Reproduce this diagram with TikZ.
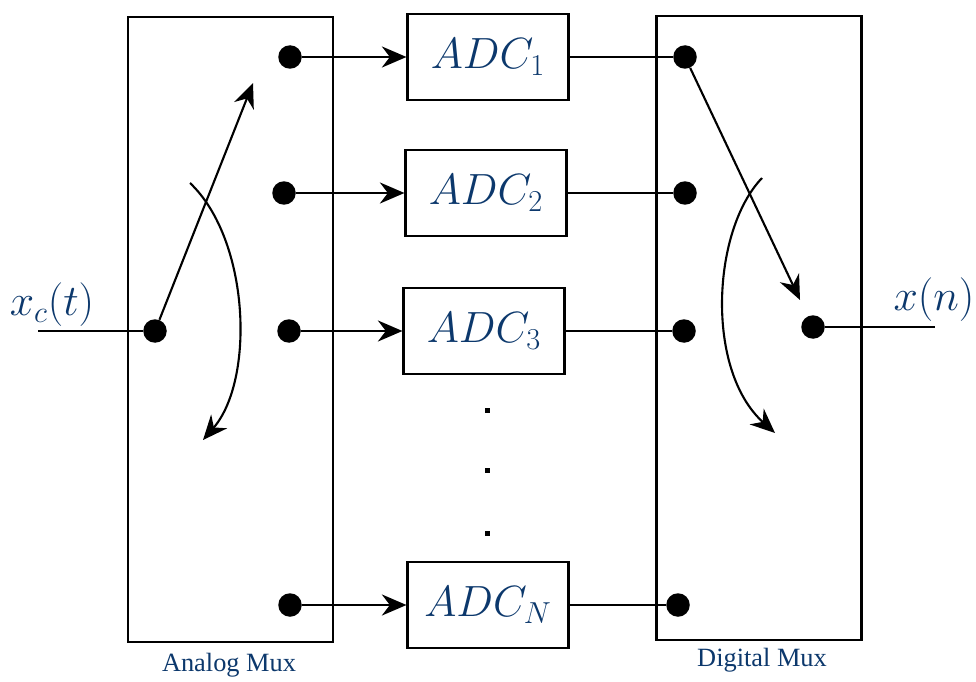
\documentclass[tikz,border=0pt]{standalone}
\usepackage{fontspec}
\newfontfamily\labelfont{Liberation Serif}
\usetikzlibrary{arrows.meta}
\definecolor{sigblue}{RGB}{12,56,108}

\begin{document}
\begin{tikzpicture}[x=0.02cm,y=-0.02cm]
\tikzstyle{every node}=[font=\fontsize{23}{27}\selectfont, text=sigblue]
\tikzstyle{muxbox}=[draw, line width=1.2pt, minimum width=4.1cm, minimum height=12.5cm, inner sep=0pt]
\tikzstyle{adcbox}=[draw, line width=1.2pt, minimum width=3.22cm, minimum height=1.72cm, inner sep=0pt]
\tikzstyle{pin}=[circle, fill=black, minimum size=0.47cm, inner sep=0pt]
\tikzstyle{arr}=[line width=1.2pt, -{Stealth[length=14pt,width=12pt]}]
\tikzstyle{wire}=[line width=1.2pt]
\tikzstyle{muxlabel}=[font=\labelfont\fontsize{15}{18}\selectfont]
\useasboundingbox (0,0) rectangle (976,682);
\node [muxbox] (amux) at (230.5,329.5) {};
\node [muxbox] (dmux) at (759,328) {};
\node [muxlabel] at (229,665) {Analog Mux};
\node [muxlabel] at (762,660) {Digital Mux};
\node [adcbox] (adc1) at (488,57) {$ADC_1$};
\node [adcbox] (adc2) at (486,193) {$ADC_2$};
\node [adcbox] (adc3) at (484,331) {$ADC_3$};
\node [adcbox] (adcN) at (488,605) {$ADC_N$};
\node [pin] (ain) at (155,331) {};
\node [pin] (a1) at (290,57) {};
\node [pin] (a2) at (284,193) {};
\node [pin] (a3) at (289,331) {};
\node [pin] (aN) at (290,605) {};
\node [pin] (d1) at (685,57) {};
\node [pin] (d2) at (685,193) {};
\node [pin] (d3) at (684,331) {};
\node [pin] (dN) at (678,605) {};
\node [pin] (dout) at (813,327) {};
\coordinate (in) at (38,331);
\coordinate (out) at (935,327);
\coordinate (asw) at (253,83);
\coordinate (dsw) at (800,300);
\coordinate (arot1) at (190,183);
\coordinate (arot2) at (203,440);
\coordinate (drot1) at (762,178);
\coordinate (drot2) at (775,433);
\node at (52,305) {$x_c(t)$};
\node at (934,300) {$x(n)$};
\draw [wire] (in) -- (ain);
\draw [wire] (dout) -- (out);
\draw [arr] (a1) -- (adc1);
\draw [arr] (a2) -- (adc2);
\draw [arr] (a3) -- (adc3);
\draw [arr] (aN) -- (adcN);
\draw [wire] (adc1) -- (d1);
\draw [wire] (adc2) -- (d2);
\draw [wire] (adc3) -- (d3);
\draw [wire] (adcN) -- (dN);
\draw [arr] (ain) -- (asw);
\draw [arr] (d1) -- (dsw);
\draw [arr] (arot1) .. controls (250,240) and (255,380) .. (arot2);
\draw [arr] (drot1) .. controls (712,230) and (705,370) .. (drot2);
\fill (484.5,407.5) rectangle (489.5,412.5);
\fill (484.5,467.5) rectangle (489.5,472.5);
\fill (484.5,530.5) rectangle (489.5,535.5);
\end{tikzpicture}
\end{document}
